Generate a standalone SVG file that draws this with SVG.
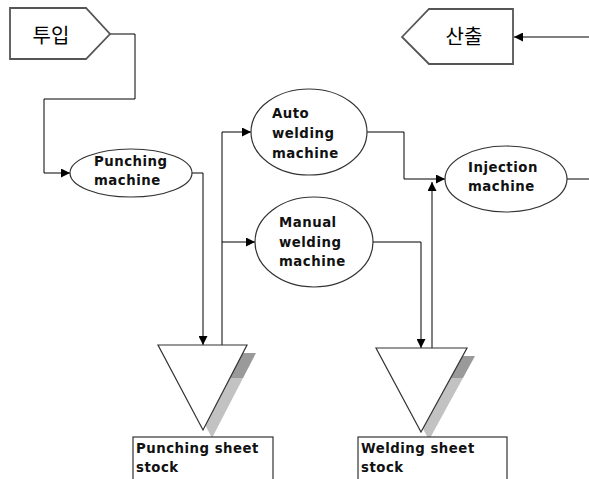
<svg xmlns="http://www.w3.org/2000/svg" width="589" height="479" viewBox="0 0 589 479">
  <defs>
    <marker id="arr" viewBox="0 0 10 10" refX="10" refY="5" markerWidth="9" markerHeight="9" markerUnits="userSpaceOnUse" orient="auto">
      <path d="M0,0 L10,5 L0,10 z" fill="#000"/>
    </marker>
    <!-- two-tone drop shadow for the stock triangles -->
    <linearGradient id="shadeA" x1="0" y1="0" x2="0" y2="1">
      <stop offset="0" stop-color="#9a9a9a"/>
      <stop offset="0.29" stop-color="#9a9a9a"/>
      <stop offset="0.29" stop-color="#c2c2c2"/>
      <stop offset="1" stop-color="#c2c2c2"/>
    </linearGradient>
    <linearGradient id="shadeB" x1="0" y1="0" x2="0" y2="1">
      <stop offset="0" stop-color="#9a9a9a"/>
      <stop offset="0.26" stop-color="#9a9a9a"/>
      <stop offset="0.26" stop-color="#c2c2c2"/>
      <stop offset="1" stop-color="#c2c2c2"/>
    </linearGradient>
    <style>
      .edge { fill: none; stroke: #000; stroke-width: 1; }
      .node { fill: #fff; stroke: #333; stroke-width: 1.2; }
      .io { fill: #fff; stroke: #555; stroke-width: 1.8; }
      .lbl { font-family: "DejaVu Sans", "Liberation Sans", sans-serif; font-size: 13.3px; font-weight: bold; letter-spacing: 0.5px; fill: #111; }
      .ko { font-family: "Noto Sans CJK KR", "Noto Sans", sans-serif; font-size: 20px; fill: #000; text-anchor: middle; }
    </style>
  </defs>
  <rect width="589" height="479" fill="#fff"/>

  <!-- connectors -->
  <g id="connectors">
    <path class="edge" d="M110,34 H135 V99 H44 V173 H70" marker-end="url(#arr)"/>
    <path class="edge" d="M192,173 H203 V345" marker-end="url(#arr)"/>
    <path class="edge" d="M222,345 V132 H251" marker-end="url(#arr)"/>
    <path class="edge" d="M222,242 H255" marker-end="url(#arr)"/>
    <path class="edge" d="M367,132 H404 V179 H445" marker-end="url(#arr)"/>
    <path class="edge" d="M373,242 H421 V348" marker-end="url(#arr)"/>
    <path class="edge" d="M432,348 V182" marker-end="url(#arr)"/>
    <path class="edge" d="M567,179 H589"/>
    <path class="edge" d="M589,37 H514" marker-end="url(#arr)"/>
  </g>

  <!-- input -->
  <g id="input">
    <polygon class="io" points="10,8 86,8 110,34 86,59 10,59"/>
    <text class="ko" x="51" y="43">투입</text>
  </g>

  <!-- output -->
  <g id="output">
    <polygon class="io" points="402,37 429,9 513,9 513,64 429,64"/>
    <text class="ko" x="464" y="44">산출</text>
  </g>

  <!-- punching machine -->
  <g id="punching">
    <ellipse class="node" cx="131" cy="173" rx="61" ry="24"/>
    <text class="lbl" x="94" y="166">Punching</text>
    <text class="lbl" x="94" y="185">machine</text>
  </g>

  <!-- auto welding machine -->
  <g id="auto-welding">
    <ellipse class="node" cx="309" cy="132" rx="58" ry="43"/>
    <text class="lbl" x="272" y="118">Auto</text>
    <text class="lbl" x="272" y="138">welding</text>
    <text class="lbl" x="272" y="158">machine</text>
  </g>

  <!-- manual welding machine -->
  <g id="manual-welding">
    <ellipse class="node" cx="314" cy="242" rx="59" ry="45"/>
    <text class="lbl" x="279" y="227">Manual</text>
    <text class="lbl" x="279" y="247">welding</text>
    <text class="lbl" x="279" y="266">machine</text>
  </g>

  <!-- injection machine -->
  <g id="injection">
    <ellipse class="node" cx="506" cy="179" rx="61" ry="33"/>
    <text class="lbl" x="468" y="172">Injection</text>
    <text class="lbl" x="468" y="191">machine</text>
  </g>

  <!-- punching sheet stock -->
  <g id="punching-stock">
    <polygon fill="url(#shadeA)" points="167,353 256,353 212,438"/>
    <polygon class="node" points="158,345 247,345 203,430"/>
    <rect class="node" x="133" y="437" width="140" height="50"/>
    <text class="lbl" x="136" y="453">Punching sheet</text>
    <text class="lbl" x="136" y="472">stock</text>
  </g>

  <!-- welding sheet stock -->
  <g id="welding-stock">
    <polygon fill="url(#shadeB)" points="384,356 475,356 429,440"/>
    <polygon class="node" points="376,348 467,348 421,432"/>
    <rect class="node" x="358" y="437" width="149" height="50"/>
    <text class="lbl" x="361" y="453">Welding sheet</text>
    <text class="lbl" x="361" y="472">stock</text>
  </g>
</svg>
